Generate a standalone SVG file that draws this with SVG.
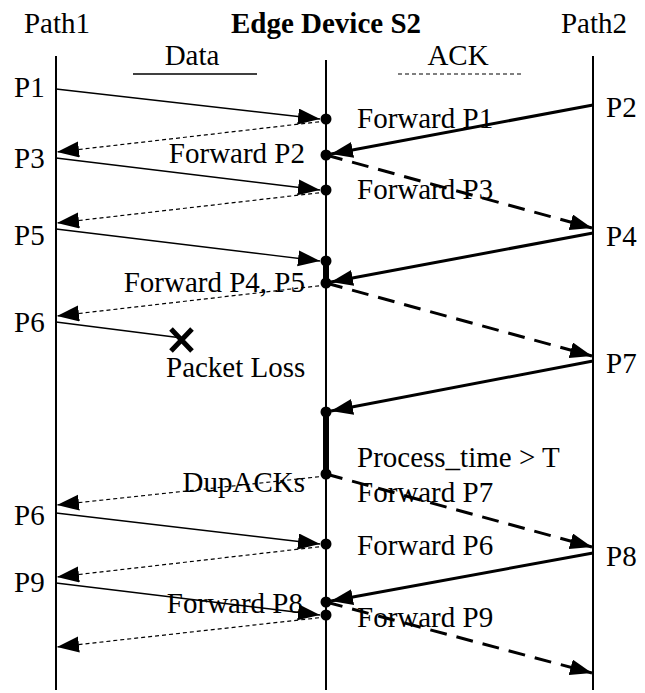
<svg xmlns="http://www.w3.org/2000/svg" width="645" height="693" viewBox="0 0 645 693">
<style>
text{font-family:"Liberation Serif","Times New Roman",serif;font-size:29px;fill:#000}
.t{font-weight:bold}
.end{text-anchor:end}
.mid{text-anchor:middle}
.life{stroke:#000;stroke-width:2;fill:none}
.data{stroke:#000;stroke-width:1.3;fill:none;marker-end:url(#ah)}
.ack{stroke:#000;stroke-width:1.2;stroke-dasharray:4 3;fill:none;marker-end:url(#ah)}
.in{stroke:#000;stroke-width:3;fill:none;marker-end:url(#ah)}
.out{stroke:#000;stroke-width:3;stroke-dasharray:17 10;fill:none;marker-end:url(#ah)}
.proc{stroke:#000;stroke-width:6;fill:none}
.dot{fill:#000}
</style>
<defs>
<marker id="ah" markerUnits="userSpaceOnUse" markerWidth="23" markerHeight="17" refX="22" refY="8" orient="auto">
<path d="M0,0 L22,8 L0,16 z" fill="#000"/>
</marker>
</defs>
<rect width="645" height="693" fill="#fff"/>
<g id="headers">
<text class="mid" x="57" y="33">Path1</text>
<text class="mid t" x="326" y="33">Edge Device S2</text>
<text class="mid" x="594" y="33">Path2</text>
<text class="mid" x="192" y="65">Data</text>
<line x1="133" y1="74" x2="257" y2="74" stroke="#000" stroke-width="1.3"/>
<text class="mid" x="458" y="65">ACK</text>
<line x1="398" y1="74" x2="521" y2="74" stroke="#000" stroke-width="1.2" stroke-dasharray="4 3"/>
</g>
<g id="lifelines">
<line class="life" x1="56" y1="56" x2="56" y2="690"/>
<line class="life" x1="326" y1="60" x2="326" y2="690"/>
<line class="life" x1="593" y1="56" x2="593" y2="690"/>
</g>
<g id="connectors">
<line class="data" x1="56" y1="89" x2="320" y2="119"/>
<line class="data" x1="56" y1="158" x2="320" y2="190"/>
<line class="data" x1="56" y1="229" x2="320" y2="261"/>
<line x1="56" y1="322" x2="182" y2="338" stroke="#000" stroke-width="1.3"/>
<line class="data" x1="56" y1="513" x2="320" y2="544"/>
<line class="data" x1="56" y1="583" x2="320" y2="615"/>
<line class="ack" x1="326" y1="121" x2="57" y2="152"/>
<line class="ack" x1="326" y1="192" x2="57" y2="223"/>
<line class="ack" x1="326" y1="285" x2="57" y2="316"/>
<line class="ack" x1="326" y1="476" x2="57" y2="505"/>
<line class="ack" x1="326" y1="546" x2="57" y2="577"/>
<line class="ack" x1="326" y1="617" x2="57" y2="647"/>
<line class="in" x1="593" y1="105" x2="331" y2="154"/>
<line class="in" x1="593" y1="233" x2="331" y2="282"/>
<line class="in" x1="593" y1="361" x2="331" y2="411"/>
<line class="in" x1="593" y1="553" x2="331" y2="601"/>
<line class="out" x1="326" y1="155" x2="592" y2="228"/>
<line class="out" x1="326" y1="283" x2="592" y2="356"/>
<line class="out" x1="326" y1="474" x2="592" y2="547"/>
<line class="out" x1="326" y1="602" x2="592" y2="673"/>
<line class="proc" x1="326" y1="261" x2="326" y2="283"/>
<line class="proc" x1="326" y1="412" x2="326" y2="474"/>
</g>
<g id="dots">
<circle class="dot" cx="326" cy="119" r="5.5"/>
<circle class="dot" cx="326" cy="155" r="5.5"/>
<circle class="dot" cx="326" cy="190" r="5.5"/>
<circle class="dot" cx="326" cy="261" r="5.5"/>
<circle class="dot" cx="326" cy="283" r="5.5"/>
<circle class="dot" cx="326" cy="412" r="5.5"/>
<circle class="dot" cx="326" cy="474" r="5.5"/>
<circle class="dot" cx="326" cy="544" r="5.5"/>
<circle class="dot" cx="326" cy="602" r="5.5"/>
<circle class="dot" cx="326" cy="615" r="5.5"/>
</g>
<g id="loss">
<path d="M171,329 L192,351 M192,329 L171,351" stroke="#000" stroke-width="5" fill="none"/>
<text x="166" y="377">Packet Loss</text>
</g>
<g id="path1-labels">
<text x="14" y="97">P1</text>
<text x="14" y="168">P3</text>
<text x="14" y="245">P5</text>
<text x="14" y="332">P6</text>
<text x="14" y="525">P6</text>
<text x="14" y="592">P9</text>
</g>
<g id="path2-labels">
<text x="606" y="117">P2</text>
<text x="606" y="246">P4</text>
<text x="606" y="373">P7</text>
<text x="606" y="566">P8</text>
</g>
<g id="s2-labels">
<text x="357" y="128">Forward P1</text>
<text class="end" x="305" y="163">Forward P2</text>
<text x="357" y="199">Forward P3</text>
<text class="end" x="305" y="292">Forward P4, P5</text>
<text x="357" y="467">Process_time &gt; T</text>
<text class="end" x="305" y="492">DupACKs</text>
<text x="357" y="502">Forward P7</text>
<text x="357" y="555">Forward P6</text>
<text class="end" x="303" y="613">Forward P8</text>
<text x="357" y="627">Forward P9</text>
</g>
</svg>
